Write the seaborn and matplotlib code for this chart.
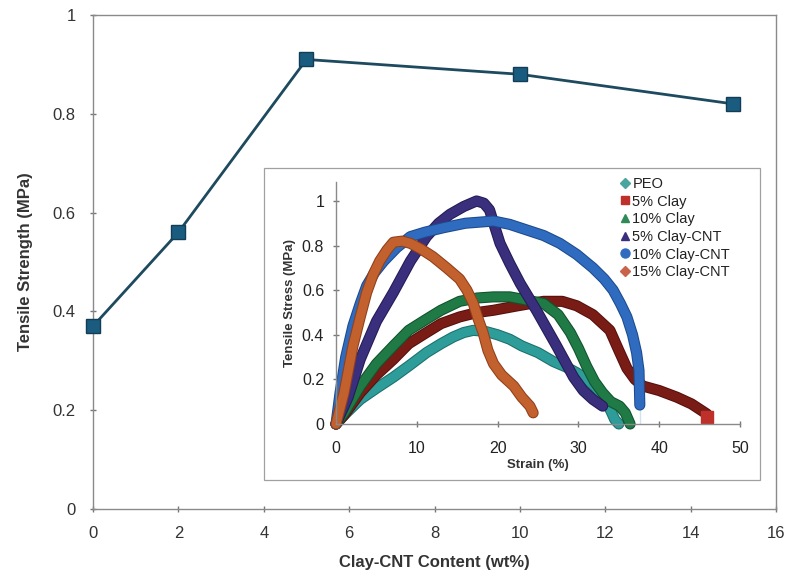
import numpy as np
import pandas as pd
import matplotlib
matplotlib.use("Agg")
import matplotlib.pyplot as plt
import seaborn as sns
from matplotlib.lines import Line2D
from matplotlib.patches import Rectangle
import matplotlib.patheffects as pe

sns.set_theme(style="white")
plt.rcParams['font.family'] = ['Liberation Sans', 'DejaVu Sans']

# Main chart data
content = [0, 2, 5, 10, 15]
strength = [0.37, 0.56, 0.91, 0.88, 0.82]
main_xticks = [0, 2, 4, 6, 8, 10, 12, 14, 16]
main_yticks = [0, 0.2, 0.4, 0.6, 0.8, 1]

# Inset stress-strain curves
peo_strain = [0, 1, 3, 5, 7.1, 9, 11.2, 13, 14.5, 15.8, 17, 18.5, 20, 21.5, 23, 25, 26.9, 28.5, 29.8, 31, 32, 33, 34, 34.5, 35]
peo_stress = [0, 0.04, 0.11, 0.16, 0.21, 0.26, 0.32, 0.36, 0.39, 0.41, 0.42, 0.415, 0.40, 0.38, 0.35, 0.32, 0.28, 0.255, 0.23, 0.20, 0.17, 0.12, 0.06, 0.02, 0]

clay5_strain = [0, 1, 3, 5, 7.1, 9, 11.2, 13, 15.3, 17.5, 19.5, 22.5, 25.7, 28, 29.8, 31.8, 33.9, 35, 36, 37, 38, 40, 42.2, 44, 45.9, 45.9]
clay5_stress = [0, 0.04, 0.14, 0.22, 0.29, 0.36, 0.41, 0.45, 0.48, 0.50, 0.51, 0.53, 0.55, 0.55, 0.53, 0.49, 0.42, 0.33, 0.25, 0.20, 0.17, 0.15, 0.12, 0.09, 0.06, 0.03]

clay10_strain = [0, 1, 3, 5, 7.1, 9, 11.2, 13, 15.3, 17.5, 19.5, 21.5, 23, 25.7, 27.5, 29, 30, 31, 32, 33, 34, 35.1, 35.8, 36.4]
clay10_stress = [0, 0.05, 0.17, 0.27, 0.35, 0.42, 0.47, 0.51, 0.55, 0.565, 0.57, 0.57, 0.56, 0.54, 0.49, 0.41, 0.34, 0.26, 0.19, 0.14, 0.10, 0.08, 0.05, 0.0]

cnt5_strain = [0, 1.5, 3, 5, 7.1, 9.2, 11.2, 12.7, 14.1, 15.8, 17.4, 18.3, 19.0, 19.6, 20.3, 21.5, 22.8, 24.8, 27.3, 29.4, 30.6, 31.8, 33]
cnt5_stress = [0, 0.12, 0.29, 0.46, 0.59, 0.73, 0.84, 0.90, 0.94, 0.975, 1.0, 0.99, 0.96, 0.89, 0.81, 0.72, 0.63, 0.51, 0.35, 0.21, 0.15, 0.11, 0.08]

cnt10_strain = [0, 0.5, 1.2, 2.1, 3, 3.8, 4.8, 5.9, 7.5, 9.2, 11, 13.3, 16, 19.5, 21.5, 23.6, 25.7, 27.7, 29.8, 31.8, 33.2, 34.3, 35.2, 36, 36.7, 37.2, 37.5, 37.6, 37.6]
cnt10_stress = [0, 0.14, 0.30, 0.44, 0.54, 0.62, 0.68, 0.73, 0.79, 0.84, 0.86, 0.88, 0.90, 0.91, 0.895, 0.87, 0.845, 0.81, 0.76, 0.70, 0.65, 0.60, 0.54, 0.48, 0.40, 0.32, 0.24, 0.17, 0.0]

cnt15_strain = [0, 1, 2.1, 3, 3.8, 4.6, 5.4, 6.3, 7.1, 8.2, 9.2, 10.5, 12, 13.7, 15.3, 16.2, 17, 17.6, 18.2, 18.8, 19.5, 20.5, 22, 23, 24, 24.4]
cnt15_stress = [0, 0.14, 0.35, 0.48, 0.59, 0.67, 0.73, 0.78, 0.815, 0.82, 0.81, 0.785, 0.75, 0.70, 0.65, 0.60, 0.54, 0.47, 0.41, 0.33, 0.27, 0.22, 0.17, 0.12, 0.08, 0.05]

series_names = ["PEO", "5% Clay", "10% Clay", "5% Clay-CNT", "10% Clay-CNT", "15% Clay-CNT"]
legend_labels = ["PEO", "5% Clay", "10% Clay", "5% Clay-CNT", "10% Clay-CNT", "15% Clay-CNT"]
inset_xticks = [0, 10, 20, 30, 40, 50]
inset_yticks = [0, 0.2, 0.4, 0.6, 0.8, 1]

colors = ["#2e9c98", "#7a1c16", "#1f7a45", "#3a2f7c", "#2f6cc0", "#c2602e"]
edge_colors = ["#1c6f6c", "#55100c", "#11522d", "#241b55", "#1d4a8c", "#8f3f1a"]
markers = ["D", "s", "^", "^", "o", "D"]

curves = [(peo_strain, peo_stress), (clay5_strain, clay5_stress), (clay10_strain, clay10_stress),
          (cnt5_strain, cnt5_stress), (cnt10_strain, cnt10_stress), (cnt15_strain, cnt15_stress)]

fig = plt.figure(figsize=(7.89, 5.77), dpi=100)

# Main axes
ax = fig.add_axes([93/789, 1-509/577, (776-93)/789, (509-15)/577])
main_df = pd.DataFrame({"content": content, "strength": strength})
sns.lineplot(data=main_df, x="content", y="strength", ax=ax, color="#1e4a60", lw=2,
             marker="s", markersize=10, markerfacecolor="#1a5b80", markeredgecolor="#123d55",
             markeredgewidth=1, clip_on=False, zorder=5)
ax.set_xlim(0, 16)
ax.set_ylim(0, 1)
ax.set_xticks(main_xticks)
ax.set_yticks(main_yticks)
ax.set_yticklabels(["0", "0.2", "0.4", "0.6", "0.8", "1"])
for s in ax.spines.values():
    s.set_color("#8a8a8a")
    s.set_linewidth(1.0)
ax.tick_params(axis="both", direction="inout", length=5, width=1, color="#777777",
               labelsize=12, labelcolor="#333333", pad=10, left=True, bottom=True)
ax.set_xlabel("Clay-CNT Content (wt%)", fontsize=12, fontweight="bold", color="#333333", labelpad=10)
ax.set_ylabel("Tensile Strength (MPa)", fontsize=12, fontweight="bold", color="#333333", labelpad=14)

# Inset frame
fig.patches.append(Rectangle((264/789, 1-480/577), (760-264)/789, (480-168)/577,
                             transform=fig.transFigure, fill=True, facecolor="white",
                             edgecolor="#a0a0a0", lw=0.9, zorder=10))

# Inset axes
ax2 = fig.add_axes([336/789, 1-424/577, (740-336)/789, (424-182)/577], zorder=11)
ax2.patch.set_alpha(0)
rows = []
for name, (xs, ys) in zip(series_names, curves):
    for i, (xv, yv) in enumerate(zip(xs, ys)):
        rows.append({"series": name, "strain": xv, "stress": yv, "order": i})
inset_df = pd.DataFrame(rows)
for idx, name in enumerate(series_names):
    sub = inset_df[inset_df["series"] == name]
    sns.lineplot(data=sub, x="strain", y="stress", ax=ax2, sort=False, color=colors[idx],
                 lw=6.5, solid_capstyle="round", solid_joinstyle="round", clip_on=False,
                 path_effects=[pe.Stroke(linewidth=8, foreground=edge_colors[idx]), pe.Normal()])
ax2.plot(clay5_strain[-1], clay5_stress[-1], marker="s", color="#c0302a", markersize=8, clip_on=False)
ax2.set_xlim(0, 50)
ax2.set_ylim(0, 1.085)
ax2.set_xticks(inset_xticks)
ax2.set_yticks(inset_yticks)
ax2.set_yticklabels(["0", "0.2", "0.4", "0.6", "0.8", "1"])
ax2.spines["top"].set_visible(False)
ax2.spines["right"].set_visible(False)
for sname in ["left", "bottom"]:
    ax2.spines[sname].set_color("#8a8a8a")
    ax2.spines[sname].set_linewidth(1.0)
ax2.tick_params(axis="both", direction="inout", length=5, width=1, color="#777777",
                labelsize=11.5, labelcolor="#222222", left=True, bottom=True)
ax2.tick_params(axis="x", pad=10)
ax2.tick_params(axis="y", pad=6)
ax2.set_xlabel("Strain (%)", fontsize=9.5, fontweight="bold", color="#333333", labelpad=2)
ax2.set_ylabel("Tensile Stress (MPa)", fontsize=9.5, fontweight="bold", color="#333333", labelpad=4)

handles = [Line2D([], [], ls="none", marker=m, color=c, markersize=5.5 if m != "o" else 6.5)
           for m, c in zip(markers, ["#4aa5a0", "#c0302a", "#2f8a55", "#3a2f7c", "#2f6cc0", "#c9644a"])]
leg = ax2.legend(handles, legend_labels, loc="upper left", bbox_to_anchor=(0.69, 1.045),
                 frameon=False, fontsize=10.5, handlelength=0.6, handletextpad=0.2,
                 labelspacing=0.25, borderaxespad=0)
for t in leg.get_texts():
    t.set_color("#222222")

fig.savefig("out.png", dpi=100)
